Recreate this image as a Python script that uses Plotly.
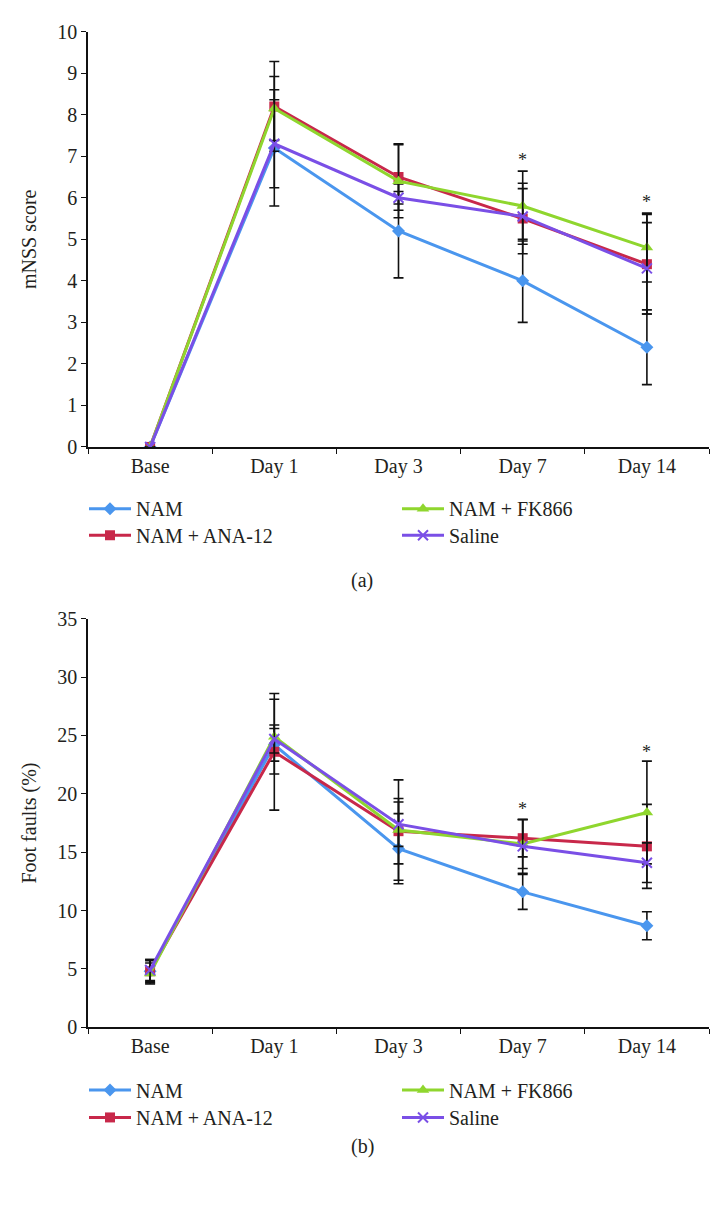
import plotly.graph_objects as go

categories = ["Base", "Day 1", "Day 3", "Day 7", "Day 14"]
series_names = ["NAM", "NAM + ANA-12", "NAM + FK866", "Saline"]

# Panel (a): mNSS score
mnss_nam = [0, 7.2, 5.2, 4.0, 2.4]
mnss_nam_err = [0, 1.4, 1.13, 1.0, 0.9]
mnss_ana = [0, 8.2, 6.5, 5.5, 4.4]
mnss_ana_err = [0, 1.08, 0.8, 0.85, 1.2]
mnss_fk = [0, 8.15, 6.4, 5.8, 4.8]
mnss_fk_err = [0, 0.77, 0.88, 0.84, 0.83]
mnss_sal = [0, 7.3, 6.0, 5.55, 4.3]
mnss_sal_err = [0, 1.06, 0.15, 0.67, 1.1]
mnss_star_x = ["Day 7", "Day 14"]
mnss_star_y = [6.9, 5.9]

# Panel (b): Foot faults (%)
ff_nam = [4.8, 24.2, 15.3, 11.6, 8.7]
ff_nam_err = [1.0, 1.4, 3.0, 1.5, 1.2]
ff_ana = [4.8, 23.6, 16.8, 16.2, 15.5]
ff_ana_err = [0.9, 5.0, 2.8, 1.6, 3.6]
ff_fk = [4.6, 24.9, 16.9, 15.7, 18.4]
ff_fk_err = [0.9, 3.2, 4.3, 2.1, 4.4]
ff_sal = [4.9, 24.7, 17.4, 15.5, 14.1]
ff_sal_err = [0.9, 1.2, 1.9, 2.3, 1.7]
ff_star_x = ["Day 7", "Day 14"]
ff_star_y = [18.7, 23.6]

colors = ["#4a96ee", "#c8284a", "#8fd62e", "#7a4fe6"]
symbols = ["diamond", "square", "triangle-up", "x-thin"]
sizes = [10, 10, 11, 10]
# legend rows: row 1 = NAM, NAM + FK866 ; row 2 = NAM + ANA-12, Saline
row_of = [0, 1, 0, 1]
FONT = "Liberation Serif"
TXT = "#231f20"
W, H = 724, 1214


def py(p):
    return 1 - p / H


def px(p):
    return p / W


fig = go.Figure()

panel_a = [(mnss_nam, mnss_nam_err), (mnss_ana, mnss_ana_err),
           (mnss_fk, mnss_fk_err), (mnss_sal, mnss_sal_err)]
panel_b = [(ff_nam, ff_nam_err), (ff_ana, ff_ana_err),
           (ff_fk, ff_fk_err), (ff_sal, ff_sal_err)]

panel_legends = [("legend", "legend3"), ("legend2", "legend4")]

for k, (panel, xa, ya) in enumerate([(panel_a, "x", "y"), (panel_b, "x2", "y2")]):
    for i, (vals, errs) in enumerate(panel):
        fig.add_trace(go.Scatter(
            x=categories, y=vals, name=series_names[i],
            mode="lines+markers", xaxis=xa, yaxis=ya,
            legend=panel_legends[k][row_of[i]],
            line=dict(color=colors[i], width=3),
            marker=dict(symbol=symbols[i], size=sizes[i], color=colors[i],
                        line=dict(color=colors[i], width=2 if symbols[i] == "x-thin" else 0)),
            error_y=dict(type="data", array=errs, visible=True, color="#111111",
                         thickness=1.6, width=5),
        ))

annotations = []
for xs, ys, xr, yr in [(mnss_star_x, mnss_star_y, "x", "y"), (ff_star_x, ff_star_y, "x2", "y2")]:
    for xv, yv in zip(xs, ys):
        annotations.append(dict(x=xv, y=yv, xref=xr, yref=yr, text="*", showarrow=False,
                                font=dict(family=FONT, size=18, color=TXT), yanchor="middle"))
annotations.append(dict(x=px(362), y=py(580), xref="paper", yref="paper", text="(a)",
                        showarrow=False, font=dict(family=FONT, size=20, color=TXT)))
annotations.append(dict(x=px(362), y=py(1170), xref="paper", yref="paper", text="(b)",
                        showarrow=False, font=dict(family=FONT, size=20, color=TXT)))

xdom = [px(88), px(709)]
xcommon = dict(type="category", range=[-0.5, 4.5], tickson="boundaries", ticks="outside",
               ticklen=5, tickwidth=1.3, tickcolor="#111", showline=True, linecolor="#111",
               linewidth=1.5, showgrid=False, zeroline=False, domain=xdom,
               tickfont=dict(family=FONT, size=20, color=TXT), fixedrange=True)
ycommon = dict(ticks="outside", ticklen=5, tickwidth=1.3, tickcolor="#111", showline=True,
               linecolor="#111", linewidth=1.5, showgrid=False, zeroline=False,
               tickfont=dict(family=FONT, size=20, color=TXT), fixedrange=True)

legcommon = dict(orientation="h", entrywidth=256, entrywidthmode="pixels", itemwidth=42,
                 font=dict(family=FONT, size=20, color=TXT), bgcolor="rgba(0,0,0,0)",
                 xanchor="left", yanchor="top", traceorder="normal", x=px(84))

fig.update_layout(
    width=W, height=H,
    margin=dict(l=0, r=0, t=0, b=0),
    paper_bgcolor="white", plot_bgcolor="white",
    xaxis=dict(**xcommon, anchor="y"),
    yaxis=dict(**ycommon, range=[0, 10], dtick=1, anchor="x",
               domain=[py(444), py(21)],
               title=dict(text="mNSS score", font=dict(family=FONT, size=20, color=TXT))),
    xaxis2=dict(**xcommon, anchor="y2"),
    yaxis2=dict(**ycommon, range=[0, 35], dtick=5, anchor="x2",
                domain=[py(1035), py(619)],
                title=dict(text="Foot faults (%)", font=dict(family=FONT, size=20, color=TXT))),
    legend=dict(**legcommon, y=py(487)),
    legend3=dict(**legcommon, y=py(514)),
    legend2=dict(**legcommon, y=py(1079)),
    legend4=dict(**legcommon, y=py(1107)),
    annotations=annotations,
    showlegend=True,
    hovermode=False,
)

fig.write_html("out.html", config={"displayModeBar": False},
               post_script="document.body.style.margin='0';document.body.style.overflow='hidden';")
